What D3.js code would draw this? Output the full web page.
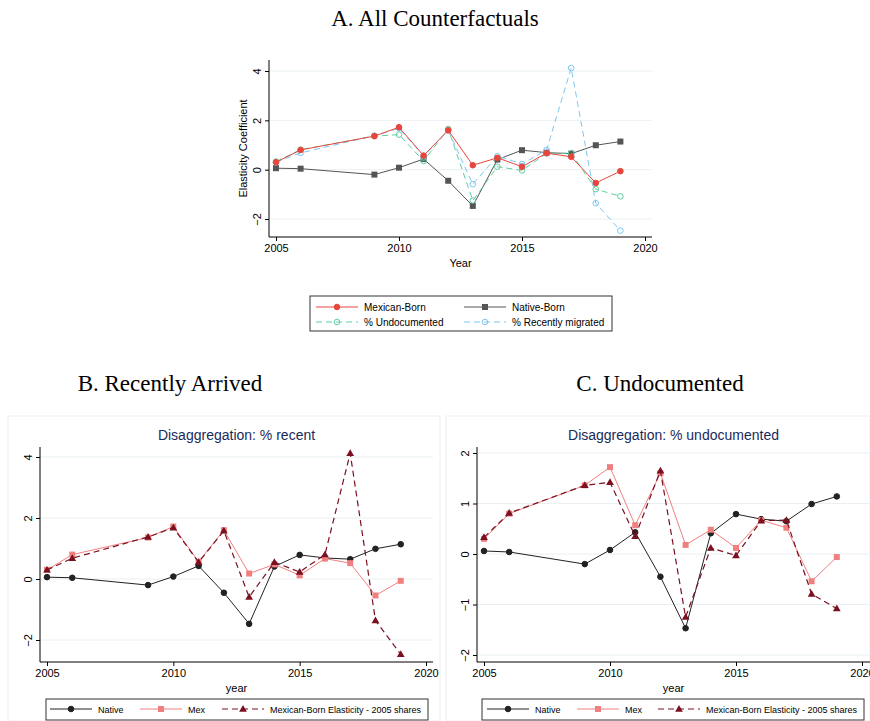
<!DOCTYPE html>
<html><head><meta charset="utf-8">
<script src="https://cdn.jsdelivr.net/npm/d3@7"></script>
<style>body{margin:0;background:#fff}text{font-family:"Liberation Sans",Arial,sans-serif}</style>
</head><body>
<script>
var years = [2005,2006,2009,2010,2011,2012,2013,2014,2015,2016,2017,2018,2019];
var mexican = [0.30,0.80,1.36,1.72,0.57,1.60,0.18,0.48,0.12,0.67,0.52,-0.54,-0.06];
var native = [0.06,0.04,-0.20,0.08,0.43,-0.45,-1.47,0.41,0.79,0.69,0.65,0.99,1.14];
var undocumented = [0.33,0.81,1.36,1.42,0.35,1.65,-1.25,0.12,-0.03,0.66,0.67,-0.79,-1.08];
var recent = [0.30,0.68,1.38,1.68,0.55,1.58,-0.59,0.55,0.23,0.80,4.12,-1.36,-2.47];
var xTicks = [2005,2010,2015,2020];

var svg = d3.select("body").append("svg").attr("width",870).attr("height",721);

function symbol(g, type, x, y, color, fill){
  if (type=="circle") g.append("circle").attr("cx",x).attr("cy",y).attr("r",2.8).attr("fill",fill?color:"none").attr("stroke",color).attr("stroke-width",1);
  else if (type=="square") g.append("rect").attr("x",x-3).attr("y",y-3).attr("width",6).attr("height",6).attr("fill",color);
  else g.append("path").attr("d",d3.symbol(d3.symbolTriangle,26)()).attr("transform","translate("+x+","+(y+0.5)+")").attr("fill",color);
}

function panel(o){
  var g = svg.append("g");
  if (o.box) g.append("rect").attr("x",o.box[0]).attr("y",o.box[1]).attr("width",o.box[2]).attr("height",o.box[3]).attr("fill","#fff").attr("stroke","#eee");
  var x = d3.scaleLinear().domain([2005,2020]).range([o.x0,o.x1]);
  var y = d3.scaleLinear().domain([o.yt[0],o.yt[o.yt.length-1]]).range([o.yb,o.ytop]);
  g.selectAll(".grid").data(o.yt).enter().append("line")
    .attr("x1",o.fl).attr("x2",o.fr).attr("y1",d=>y(d)).attr("y2",d=>y(d)).attr("stroke","#eaf0f2");
  g.append("g").attr("transform","translate(0,"+o.fb+")")
    .call(d3.axisBottom(x).tickValues(xTicks).tickFormat(d3.format("d")).tickSize(4))
    .call(a=>{a.select(".domain").attr("d","M"+o.fl+",0H"+o.fr);a.selectAll("text").attr("font-size",11).attr("fill","#000");});
  g.append("g").attr("transform","translate("+o.fl+",0)")
    .call(d3.axisLeft(y).tickValues(o.yt).tickFormat(d3.format("d")).tickSize(4))
    .call(a=>{a.select(".domain").attr("d","M0,"+o.ft+"V"+o.fb);
      a.selectAll(".tick text").attr("font-size",11).attr("fill","#000").attr("x",0).attr("y",-8).attr("dy",0)
       .attr("transform","rotate(-90)").attr("text-anchor","middle");});
  g.append("text").attr("x",(o.fl+o.fr)/2).attr("y",o.fb+30).attr("text-anchor","middle").attr("font-size",11).text(o.xlab);
  if (o.ylab) g.append("text").attr("transform","translate("+(o.fl-22)+","+((o.ft+o.fb)/2)+") rotate(-90)").attr("text-anchor","middle").attr("font-size",11).text(o.ylab);
  if (o.sub) g.append("text").attr("x",(o.fl+o.fr)/2).attr("y",o.ft-7).attr("text-anchor","middle").attr("font-size",14).attr("fill","#1a2a5a").text(o.sub);
  g.append("text").attr("x",o.title[1]).attr("y",o.title[2]).attr("text-anchor","middle")
    .style("font-family","'Liberation Serif','Times New Roman',serif").attr("font-size",23).text(o.title[0]);
  var line = d3.line().x((d,i)=>x(years[i])).y(d=>y(d));
  o.series.forEach(function(s){
    g.append("path").attr("d",line(s.v)).attr("fill","none").attr("stroke",s.c).attr("stroke-width",s.w||1).attr("stroke-dasharray",s.dash||null);
    s.v.forEach((d,i)=>symbol(g,s.sym,x(years[i]),y(d),s.c,s.fill));
  });
  var L = o.leg;
  g.append("rect").attr("x",L.x).attr("y",L.y).attr("width",L.w).attr("height",L.h).attr("fill","#fff").attr("stroke","#333");
  L.items.forEach(function(it){
    var s = it.s;
    g.append("line").attr("x1",it.x).attr("x2",it.x+42).attr("y1",it.y).attr("y2",it.y).attr("stroke",s.c).attr("stroke-width",s.w||1).attr("stroke-dasharray",s.dash||null);
    symbol(g,s.sym,it.x+21,it.y,s.c,s.fill);
    g.append("text").attr("x",it.x+it.tx).attr("y",it.y+3.5).attr("font-size",L.fs).text(s.name);
  });
}

var sMexA = {name:"Mexican-Born",v:mexican,c:"#e8463c",sym:"circle",fill:true};
var sNatA = {name:"Native-Born",v:native,c:"#555",sym:"square"};
var sUnd = {name:"% Undocumented",v:undocumented,c:"#5fcfa0",sym:"circle",dash:"6,4"};
var sRec = {name:"% Recently migrated",v:recent,c:"#7cc6f2",sym:"circle",dash:"6,4"};
panel({x0:276,x1:645,fl:269,fr:652,ft:60,fb:237,yt:[-2,0,2,4],yb:219,ytop:71,xlab:"Year",ylab:"Elasticity Coefficient",
  title:["A. All Counterfactuals",435,26],
  series:[sNatA,sUnd,sRec,sMexA],
  leg:{x:310,y:296,w:302,h:35,fs:10,items:[{s:sMexA,x:316,y:307,tx:48},{s:sNatA,x:464,y:307,tx:48},{s:sUnd,x:316,y:322,tx:48},{s:sRec,x:464,y:322,tx:48}]}});

var sNat = {name:"Native",v:native,c:"#222",sym:"circle",fill:true};
var sMex = {name:"Mex",v:mexican,c:"#f08080",sym:"square"};
var sB = {name:"Mexican-Born Elasticity - 2005 shares",v:recent,c:"#7a1020",sym:"tri",dash:"6,4",w:1.2};
var sC = {name:"Mexican-Born Elasticity - 2005 shares",v:undocumented,c:"#7a1020",sym:"tri",dash:"6,4",w:1.2};
panel({box:[8,416,432,305],x0:47,x1:426,fl:40,fr:433,ft:447,fb:662,yt:[-2,0,2,4],yb:640,ytop:457,xlab:"year",
  sub:"Disaggregation: % recent",title:["B. Recently Arrived",170,391],
  series:[sNat,sMex,sB],
  leg:{x:46,y:699,w:382,h:21,fs:9,items:[{s:sNat,x:50,y:709,tx:48},{s:sMex,x:140,y:709,tx:48},{s:sB,x:222,y:709,tx:48}]}});
panel({box:[446,416,424,305],x0:484,x1:862,fl:477,fr:870,ft:447,fb:662,yt:[-2,-1,0,1,2],yb:655,ytop:453,xlab:"year",
  sub:"Disaggregation: % undocumented",title:["C. Undocumented",660,391],
  series:[sNat,sMex,sC],
  leg:{x:482,y:699,w:382,h:21,fs:9,items:[{s:sNat,x:487,y:709,tx:48},{s:sMex,x:577,y:709,tx:48},{s:sC,x:658,y:709,tx:48}]}});
</script>
</body></html>
